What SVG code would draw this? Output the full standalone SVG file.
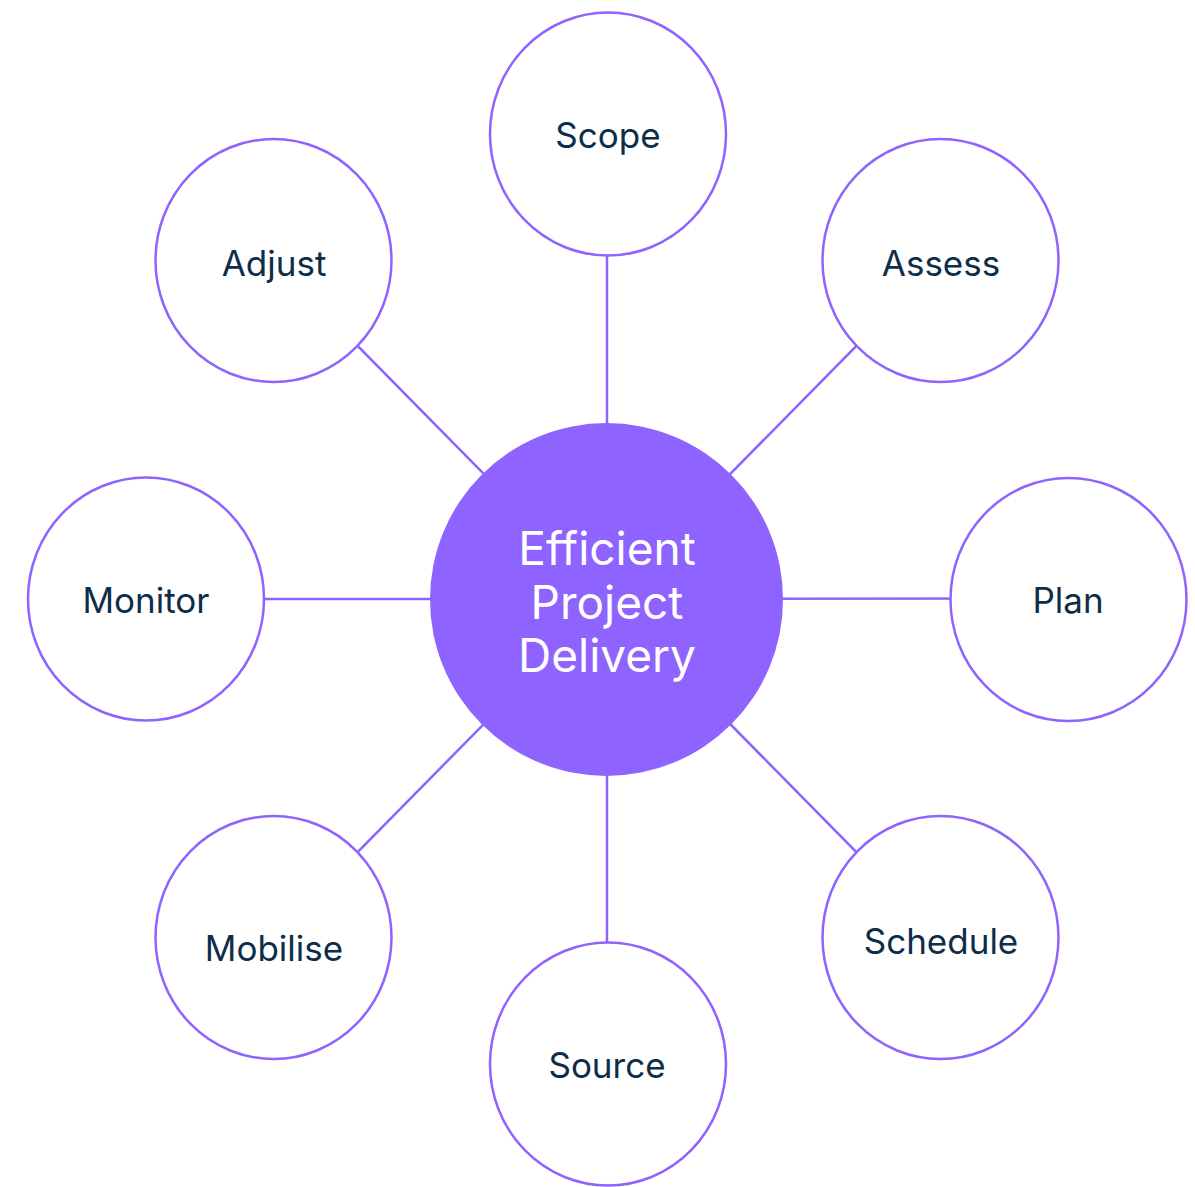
<svg xmlns="http://www.w3.org/2000/svg" width="1195" height="1187" viewBox="0 0 1195 1187">
<style>
.conn line{stroke:#8f63ff;stroke-width:2.5}
.node ellipse{fill:#ffffff;stroke:#8f63ff;stroke-width:2.5}
.node text{font-family:Inter,"Liberation Sans",sans-serif;font-size:35px;fill:#0d2d48;text-anchor:middle}
#hub circle{fill:#8f63ff;stroke:none}
#hub text{font-family:Inter,"Liberation Sans",sans-serif;font-size:46px;fill:#ffffff;text-anchor:middle}
</style>
<rect width="1195" height="1187" fill="#ffffff"/>
<g id="connectors" class="conn">
<line x1="607" y1="599" x2="607" y2="134"/>
<line x1="607" y1="599" x2="940.5" y2="260.5"/>
<line x1="607" y1="599" x2="1068.5" y2="598.5"/>
<line x1="607" y1="599" x2="940.5" y2="937.5"/>
<line x1="607" y1="599" x2="607" y2="1065"/>
<line x1="607" y1="599" x2="273.5" y2="937.5"/>
<line x1="607" y1="599" x2="146" y2="599"/>
<line x1="607" y1="599" x2="273.5" y2="260.5"/>
</g>
<g id="hub">
<circle cx="606.5" cy="599.5" r="176.5"/>
<text x="607" y="565">Efficient</text>
<text x="607" y="618.5">Project</text>
<text x="607" y="672">Delivery</text>
</g>
<g id="scope" class="node"><ellipse cx="608" cy="134" rx="118" ry="121.5"/><text x="608" y="148">Scope</text></g>
<g id="assess" class="node"><ellipse cx="940.5" cy="260.5" rx="118" ry="121.5"/><text x="941" y="276">Assess</text></g>
<g id="plan" class="node"><ellipse cx="1068.5" cy="599.5" rx="118" ry="121.5"/><text x="1068" y="613">Plan</text></g>
<g id="schedule" class="node"><ellipse cx="940.5" cy="937.5" rx="118" ry="121.5"/><text x="941" y="954">Schedule</text></g>
<g id="source" class="node"><ellipse cx="608" cy="1064" rx="118" ry="121.5"/><text x="607" y="1078">Source</text></g>
<g id="mobilise" class="node"><ellipse cx="273.5" cy="937.5" rx="118" ry="121.5"/><text x="274" y="961">Mobilise</text></g>
<g id="monitor" class="node"><ellipse cx="146" cy="599" rx="118" ry="121.5"/><text x="146" y="613">Monitor</text></g>
<g id="adjust" class="node"><ellipse cx="273.5" cy="260.5" rx="118" ry="121.5"/><text x="274" y="276">Adjust</text></g>
</svg>
